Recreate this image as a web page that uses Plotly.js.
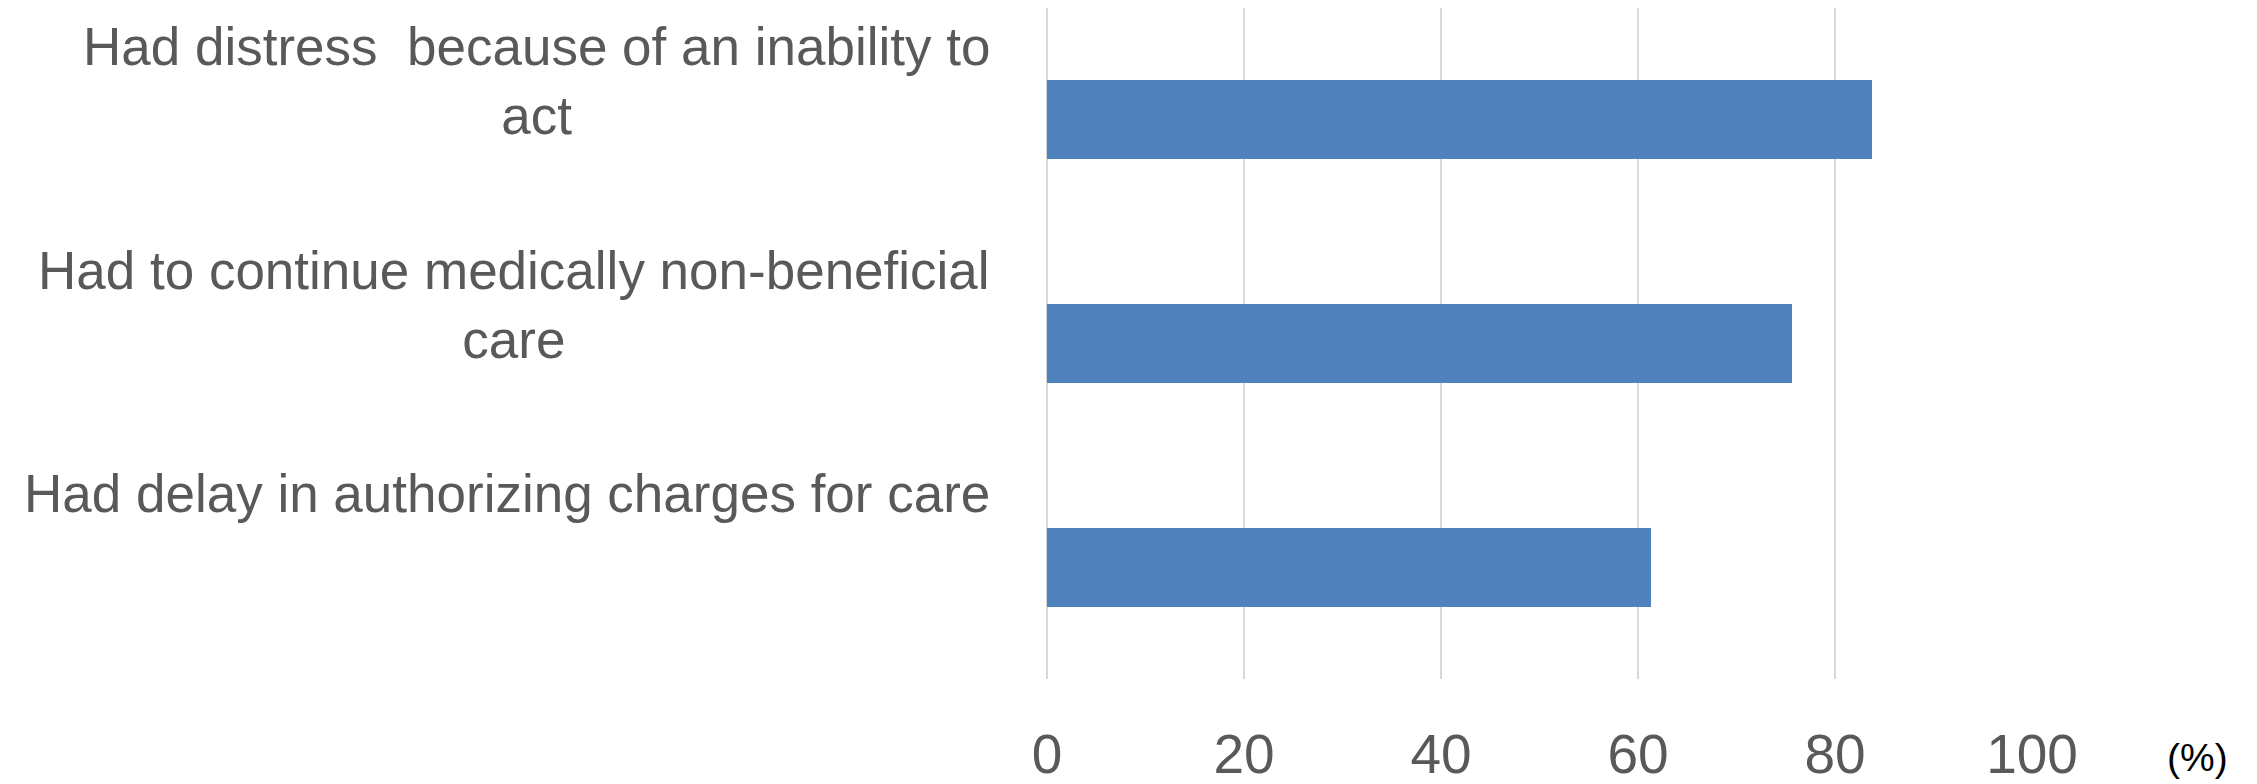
<!DOCTYPE html>
<html>
<head>
<meta charset="utf-8">
<script src="https://cdn.plot.ly/plotly-3.0.1.min.js"></script>
<style>
  html, body { margin: 0; padding: 0; background: #ffffff; }
  #chart { width: 2257px; height: 784px; }
</style>
</head>
<body>
<div id="chart"></div>
<script>
// Survey items, top to bottom
const categories = [
  "Had distress  because of an inability to act",
  "Had to continue medically non-beneficial care",
  "Had delay in authorizing charges for care"
];
// Wrapped text shown beside each bar
const categoryLabels = [
  "Had distress  because of an inability to<br>act",
  "Had to continue medically non-beneficial<br>care",
  "Had delay in authorizing charges for care"
];
// Share of respondents (%)
const percentValues = [83.8, 75.6, 61.3];
// Value axis ticks
const tickValues = [0, 20, 40, 60, 80, 100];
const tickLabels = ["0", "20", "40", "60", "80", "100"];
const unitLabel = "(%)";

const FONT = "'Liberation Sans', Arial, 'DejaVu Sans', sans-serif";
const GREY = "#595959";

const trace = {
  type: "bar",
  orientation: "h",
  y: categories,
  x: percentValues,
  width: 0.353,
  marker: { color: "#4f81bd", line: { width: 0 } },
  hoverinfo: "none"
};

const labelAnnotations = categories.map((c, i) => ({
  xref: "paper", yref: "y",
  x: 0, y: c,
  xanchor: "right", yanchor: "top",
  xshift: -55, yshift: 105,
  align: "center",
  showarrow: false,
  text: categoryLabels[i],
  font: { family: FONT, size: 53, color: GREY }
}));

const unitAnnotation = {
  xref: "paper", yref: "paper",
  x: 1.1685, y: 0,
  xanchor: "center", yanchor: "top",
  yshift: -55,
  showarrow: false,
  text: unitLabel,
  font: { family: FONT, size: 39, color: "#000000" }
};

const layout = {
  width: 2257,
  height: 784,
  margin: { l: 1047, r: 225, t: 8, b: 105, pad: 0 },
  paper_bgcolor: "#ffffff",
  plot_bgcolor: "#ffffff",
  showlegend: false,
  bargap: 0,
  xaxis: {
    range: [0, 100],
    tickmode: "array",
    tickvals: tickValues,
    ticktext: tickLabels,
    ticks: "",
    showgrid: true,
    gridcolor: "#d9d9d9",
    gridwidth: 1.3,
    zeroline: true,
    zerolinecolor: "#d9d9d9",
    zerolinewidth: 1.3,
    showline: false,
    ticklabelstandoff: 38,
    tickfont: { family: FONT, size: 55, color: GREY },
    fixedrange: true
  },
  yaxis: {
    type: "category",
    categoryorder: "array",
    categoryarray: categories,
    range: [2.5, -0.5],
    showticklabels: false,
    ticks: "",
    showgrid: false,
    zeroline: false,
    showline: false,
    fixedrange: true
  },
  annotations: labelAnnotations.concat([unitAnnotation])
};

Plotly.newPlot("chart", [trace], layout, { displayModeBar: false, staticPlot: true });
</script>
</body>
</html>
